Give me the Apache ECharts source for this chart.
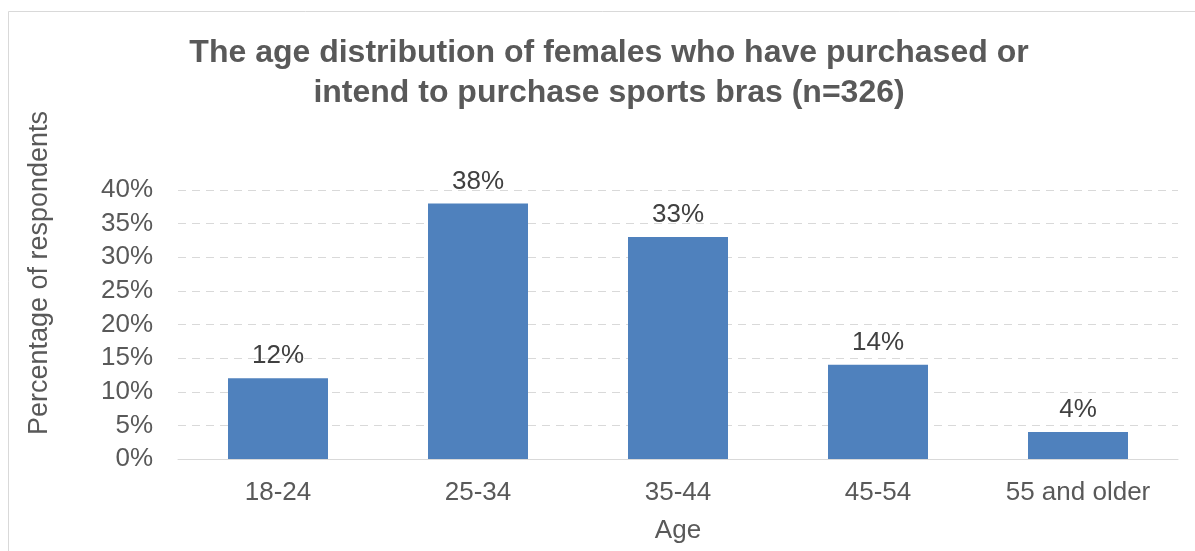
<!DOCTYPE html>
<html>
<head>
<meta charset="utf-8">
<script src="https://cdn.jsdelivr.net/npm/echarts@6/dist/echarts.min.js"></script>
<style>
  html, body { margin: 0; padding: 0; background: #fff; }
  #chart { width: 1195px; height: 551px; }
</style>
</head>
<body>
<div id="chart"></div>
<script>
// Age groups and share of respondents (%)
const categories = ['18-24', '25-34', '35-44', '45-54', '55 and older'];
const shares = [12, 38, 33, 14, 4];

const titleLines = [
  'The age distribution of females who have purchased or',
  'intend to purchase sports bras (n=326)'
];

const FONT = '"Liberation Sans", Arial, sans-serif';

const chart = echarts.init(document.getElementById('chart'));
chart.setOption({
  animation: false,
  backgroundColor: '#ffffff',
  title: {
    text: titleLines.join('\n'),
    left: 604,
    top: 28,
    textAlign: 'center',
    textStyle: {
      fontFamily: FONT,
      fontSize: 32,
      fontWeight: 'bold',
      color: '#595959',
      lineHeight: 40
    }
  },
  graphic: [
    {
      type: 'rect',
      silent: true,
      shape: { x: 8.5, y: 11.5, width: 1300, height: 700 },
      style: { fill: 'none', stroke: '#d9d9d9', lineWidth: 1 }
    },
    {
      type: 'text',
      x: 40,
      y: 273,
      rotation: Math.PI / 2,
      style: {
        text: 'Percentage of respondents',
        fontFamily: FONT,
        fontSize: 27,
        fill: '#595959',
        align: 'center',
        verticalAlign: 'middle'
      }
    }
  ],
  grid: { left: 178, right: 17, top: 190, bottom: 92 },
  xAxis: {
    type: 'category',
    data: categories,
    name: 'Age',
    nameLocation: 'middle',
    nameGap: 59,
    nameTextStyle: { fontFamily: FONT, fontSize: 26, color: '#595959' },
    axisLine: { lineStyle: { color: '#d9d9d9', width: 1 } },
    axisTick: { show: false },
    axisLabel: { fontFamily: FONT, fontSize: 26, color: '#595959', margin: 21 }
  },
  yAxis: {
    type: 'value',
    min: 0,
    max: 40,
    interval: 5,
    axisLine: { show: false },
    axisTick: { show: false },
    axisLabel: {
      fontFamily: FONT, fontSize: 26, color: '#595959', margin: 25,
      formatter: '{value}%'
    },
    splitLine: { lineStyle: { color: '#d9d9d9', type: [8, 6], width: 1 } }
  },
  series: [{
    type: 'bar',
    data: shares,
    barWidth: '50%',
    itemStyle: { color: '#4f81bd' },
    label: {
      show: true,
      position: 'top',
      distance: 9,
      formatter: '{c}%',
      fontFamily: FONT,
      fontSize: 26,
      color: '#404040'
    }
  }]
});
</script>
</body>
</html>
